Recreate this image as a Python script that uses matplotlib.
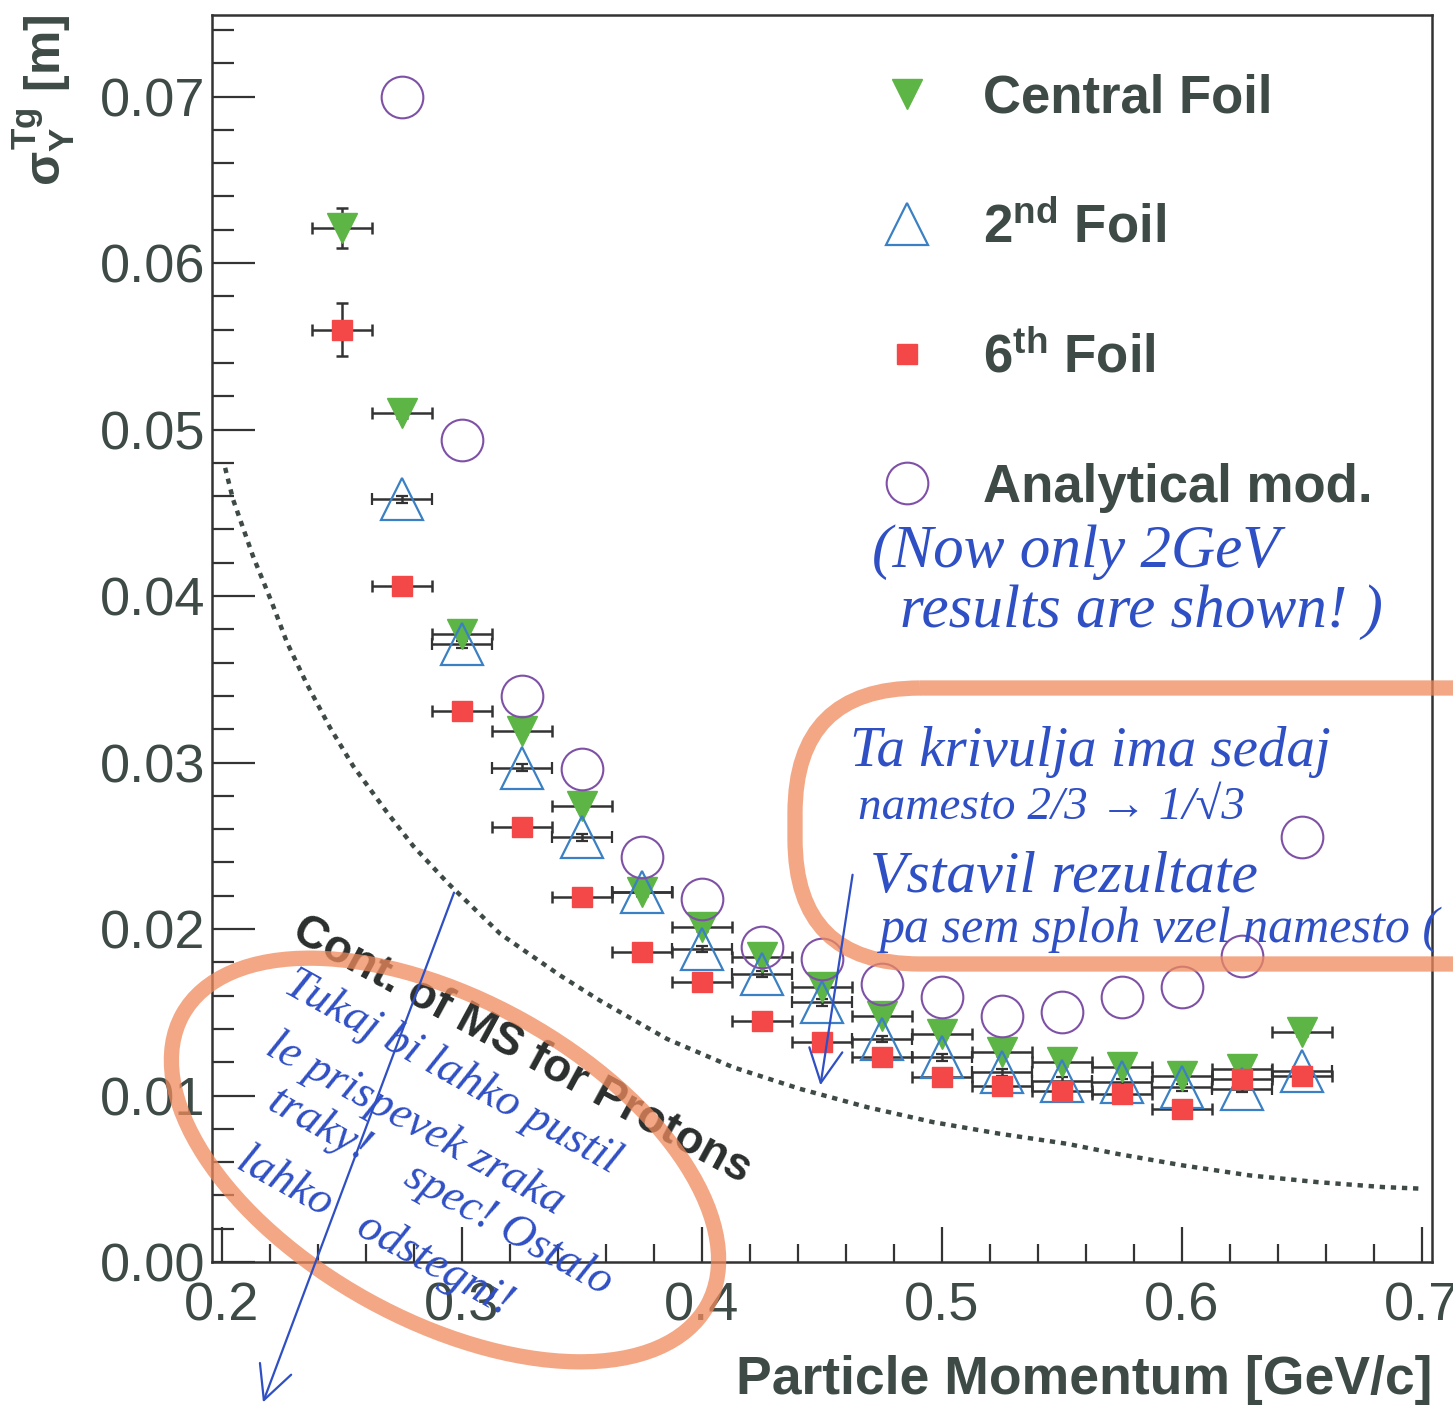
import matplotlib.pyplot as plt
from matplotlib.lines import Line2D
from matplotlib.patches import Ellipse, FancyBboxPatch

plt.rcParams['font.family'] = ['Liberation Sans', 'DejaVu Sans']
plt.rcParams['mathtext.fontset'] = 'custom'
plt.rcParams['mathtext.rm'] = 'Liberation Sans:bold'
plt.rcParams['mathtext.it'] = 'Liberation Sans:bold'
plt.rcParams['mathtext.bf'] = 'Liberation Sans:bold'

# momentum bins [GeV/c]
momentum = [0.25, 0.275, 0.3, 0.325, 0.35, 0.375, 0.4, 0.425, 0.45,
            0.475, 0.5, 0.525, 0.55, 0.575, 0.6, 0.625, 0.65]
p_err = 0.0125

# sigma_Y at target [m]
central_foil = [0.0621, 0.0510, 0.0377, 0.0319, 0.0274, 0.0222, 0.0201, 0.0183, 0.0165,
                0.0148, 0.0137, 0.0126, 0.0120, 0.0117, 0.0112, 0.0116, 0.0138]
central_err = [0.0012, 0.0003, 0.0002, 0.0002, 0.0002, 0.0002, 0.0002, 0.0002, 0.0002,
               0.0002, 0.0002, 0.0002, 0.0002, 0.0002, 0.0002, 0.0002, 0.0002]

second_p = momentum[1:]
second_foil = [0.0458, 0.0371, 0.0297, 0.0255, 0.0222, 0.0188, 0.0173, 0.0156,
               0.0134, 0.0123, 0.0114, 0.0109, 0.0108, 0.0105, 0.0104, 0.0115]
second_err = [0.0002, 0.0002, 0.0002, 0.0002, 0.0002, 0.0002, 0.0002, 0.0002,
              0.0002, 0.0002, 0.0002, 0.0002, 0.0002, 0.0002, 0.0002, 0.0002]

sixth_foil = [0.0560, 0.0406, 0.0331, 0.0261, 0.0219, 0.0186, 0.0168, 0.0145, 0.0132,
              0.0123, 0.0111, 0.0106, 0.0103, 0.0101, 0.0092, 0.0110, 0.0112]
sixth_err = [0.0016, 0.0003, 0.0002, 0.0002, 0.0002, 0.0002, 0.0002, 0.0002, 0.0002,
             0.0002, 0.0002, 0.0002, 0.0002, 0.0002, 0.0002, 0.0002, 0.0002]

analytic_p = momentum[1:]
analytic = [0.0700, 0.0494, 0.0340, 0.0296, 0.0243, 0.0218, 0.0189, 0.0182,
            0.0167, 0.0159, 0.0148, 0.0150, 0.0159, 0.0165, 0.0184, 0.0255]

# multiple scattering contribution for protons
ms_p = [0.2013, 0.2046, 0.2129, 0.2208, 0.2271, 0.2354, 0.2450, 0.2546, 0.2688, 0.2796,
        0.2938, 0.316, 0.341, 0.3575, 0.3854, 0.4129, 0.4408, 0.4688, 0.4963, 0.5242,
        0.5521, 0.5729, 0.6004, 0.6283, 0.6563, 0.6838, 0.7004]
ms_sigma = [0.0477, 0.0458, 0.0424, 0.0396, 0.0372, 0.0347, 0.0321, 0.0298, 0.0270, 0.0250,
            0.0228, 0.0197, 0.0172, 0.0157, 0.0134, 0.0117, 0.0104, 0.0093, 0.0084, 0.0077,
            0.0071, 0.0065, 0.0058, 0.0052, 0.0048, 0.0045, 0.0044]

ink = '#3d4a46'
green = '#5db545'
blue = '#3b80c4'
red = '#f44848'
purple = '#7e50a6'
pen = '#2f4fc4'
marker_orange = '#ef8a5c'

fig = plt.figure(figsize=(14.53, 14.08), dpi=100)
ax = fig.add_axes([212 / 1453, 146 / 1408, 1220 / 1453, 1247 / 1408])

ax.plot(ms_p, ms_sigma, ls=(0, (1.2, 1.3)), lw=3.2, color=ink, zorder=2)

bar_kw = dict(ls='none', ecolor='#333333', elinewidth=1.8, capsize=4.5, capthick=1.8, zorder=3)
ax.errorbar(momentum, central_foil, xerr=p_err, yerr=central_err, marker='v', ms=22,
            mfc=green, mec=green, **bar_kw)
ax.errorbar(second_p, second_foil, xerr=p_err, yerr=second_err, marker='^', ms=30,
            mfc='none', mec=blue, mew=1.6, **bar_kw)
ax.errorbar(momentum, sixth_foil, xerr=p_err, yerr=sixth_err, marker='s', ms=14,
            mfc=red, mec=red, **bar_kw)
ax.plot(analytic_p, analytic, ls='none', marker='o', ms=30, mfc='none', mec=purple,
        mew=1.5, zorder=4)

ax.set_xlim(0.19583, 0.70417)
ax.set_ylim(0, 0.0749)
ax.set_xticks([0.2, 0.3, 0.4, 0.5, 0.6, 0.7])
ax.set_xticks([0.2 + 0.02 * i for i in range(26)], minor=True)
ax.set_yticks([0.01 * i for i in range(8)])
ax.set_yticks([0.002 * i for i in range(38)], minor=True)
ax.xaxis.set_major_formatter(lambda v, pos: f'{v:.1f}')
ax.yaxis.set_major_formatter(lambda v, pos: f'{v:.2f}')
ax.tick_params(axis='both', which='both', direction='in', top=False, right=False,
               colors='#333333', labelcolor=ink, labelsize=39, width=1.6)
ax.tick_params(axis='y', which='major', length=31, pad=5)
ax.tick_params(axis='y', which='minor', length=16)
ax.tick_params(axis='x', which='major', length=25, pad=14)
ax.tick_params(axis='x', which='minor', length=13)
for side in ax.spines.values():
    side.set_linewidth(1.8)
    side.set_color('#333333')

ax.set_xlabel('Particle Momentum [GeV/c]', loc='right', fontsize=38.5,
              fontweight='bold', color=ink, labelpad=17)
ax.set_ylabel(r'$\sigma_{Y}^{Tg}$ [m]', loc='top', fontsize=36,
              fontweight='bold', color=ink, labelpad=16)

ax.text(0.325, 0.0127, 'Cont. of MS for Protons', rotation=-28.5, rotation_mode='anchor',
        ha='center', va='center', fontsize=33, fontweight='bold', color='#2a2f2d', zorder=6)

handles = [
    Line2D([], [], ls='none', marker='v', ms=22, mfc=green, mec=green),
    Line2D([], [], ls='none', marker='^', ms=30, mfc='none', mec=blue, mew=1.6),
    Line2D([], [], ls='none', marker='s', ms=14, mfc=red, mec=red),
    Line2D([], [], ls='none', marker='o', ms=30, mfc='none', mec=purple, mew=1.5),
]
labels = ['Central Foil', '2$^{nd}$ Foil', '6$^{th}$ Foil', 'Analytical mod.']
leg = ax.legend(handles, labels, loc='upper left', bbox_to_anchor=(0.548, 0.953),
                frameon=False, numpoints=1, handlelength=1.0, handletextpad=0.95,
                labelspacing=1.5, borderpad=0, borderaxespad=0,
                prop={'family': 'Liberation Sans', 'weight': 'bold', 'size': 38})
for t in leg.get_texts():
    t.set_color(ink)

# hand-drawn notes on top of the plot, in pixel coordinates
notes = fig.add_axes([0, 0, 1, 1], zorder=5)
notes.set_xlim(0, 1453)
notes.set_ylim(1408, 0)
notes.axis('off')
notes.patch.set_alpha(0)

notes.add_patch(FancyBboxPatch((795, 688), 820, 276,
                               boxstyle='round,pad=0,rounding_size=125',
                               fill=False, ec=marker_orange, lw=11, alpha=0.75))
notes.add_patch(Ellipse((445, 1160), 600, 320, angle=29, fill=False,
                        ec=marker_orange, lw=11, alpha=0.75))

hand = dict(family=['Liberation Serif', 'DejaVu Serif'], style='italic', color=pen)
notes.text(872, 552, '(Now only 2GeV', fontsize=44, va='center', ha='left', **hand)
notes.text(900, 612, 'results are shown! )', fontsize=44, va='center', ha='left', **hand)
notes.text(850, 752, 'Ta krivulja ima sedaj', fontsize=41, va='center', ha='left', **hand)
notes.text(858, 808, 'namesto 2/3 \u2192 1/\u221a3', fontsize=34, va='center', ha='left', **hand)
notes.text(870, 878, 'Vstavil rezultate', fontsize=43, va='center', ha='left', **hand)
notes.text(880, 930, 'pa sem sploh vzel namesto (', fontsize=36, va='center', ha='left', **hand)

lower_notes = [
    ((452, 1072), 'Tukaj bi lahko pustil'),
    ((415, 1124), 'le prispevek zraka'),
    ((440, 1192), 'traky!    spec! Ostalo'),
    ((375, 1232), 'lahko   odstegni!'),
]
for (x, y), line in lower_notes:
    notes.text(x, y, line, fontsize=33, rotation=-29, rotation_mode='anchor',
               ha='center', va='center', **hand)

arrow = dict(arrowstyle='->', color=pen, lw=1.6, mutation_scale=60)
notes.annotate('', xy=(262, 1405), xytext=(455, 890), arrowprops=arrow)
notes.annotate('', xy=(820, 1088), xytext=(853, 872), arrowprops=arrow)

fig.savefig('out.png', dpi=100)
